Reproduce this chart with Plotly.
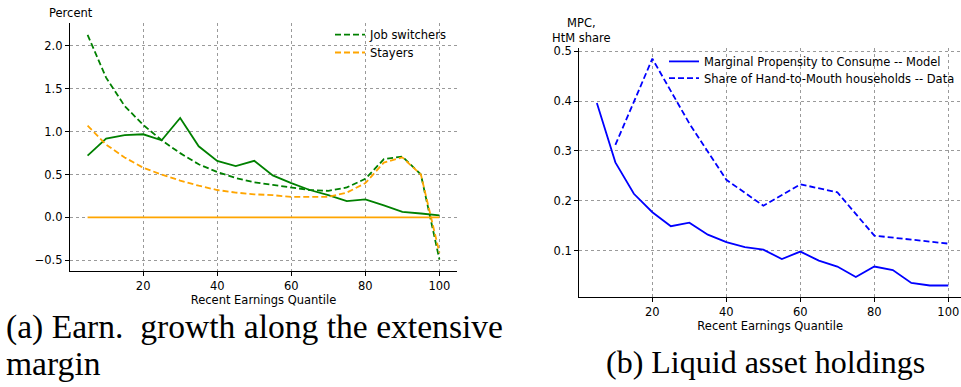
import plotly.graph_objects as go

# ---------------- data ----------------
quantiles = [5, 10, 15, 20, 25, 30, 35, 40, 45, 50, 55, 60, 65, 70, 75, 80, 85, 90, 95, 100]

switch_solid = [0.72, 0.92, 0.96, 0.97, 0.90, 1.16, 0.83, 0.66, 0.60, 0.66,
                0.49, 0.40, 0.32, 0.26, 0.19, 0.21, 0.14, 0.065, 0.046, 0.023]
switch_dash = [2.13, 1.63, 1.30, 1.08, 0.90, 0.75, 0.62, 0.53, 0.46, 0.41,
               0.38, 0.35, 0.32, 0.31, 0.35, 0.45, 0.68, 0.71, 0.50, -0.49]
stay_solid = [0.0] * 20
stay_dash = [1.07, 0.85, 0.70, 0.58, 0.50, 0.43, 0.37, 0.32, 0.29, 0.27,
             0.26, 0.24, 0.24, 0.24, 0.29, 0.40, 0.64, 0.70, 0.50, -0.41]

mpc_model = [0.396, 0.277, 0.214, 0.177, 0.149, 0.156, 0.132, 0.117, 0.107, 0.102,
             0.083, 0.098, 0.080, 0.068, 0.047, 0.068, 0.061, 0.035, 0.030, 0.030]
htm_quantiles = [10, 20, 30, 40, 50, 60, 70, 80, 90, 100]
htm_data = [0.312, 0.485, 0.355, 0.242, 0.190, 0.233, 0.217, 0.130, 0.122, 0.114]

x_ticks = [20, 40, 60, 80, 100]
left_yticks = [-0.5, 0.0, 0.5, 1.0, 1.5, 2.0]
right_yticks = [0.1, 0.2, 0.3, 0.4, 0.5]

# ---------------- figure ----------------
W, H = 961, 387
FONT = "DejaVu Sans"
FS = 11.5
GREEN, ORANGE, BLUE = "#008000", "#FFA500", "#0000FF"
DASH = "6px,3px"
LW = 1.8

fig = go.Figure()
fig.add_trace(go.Scatter(x=quantiles, y=switch_solid, mode="lines", line=dict(color=GREEN, width=LW),
                         showlegend=False, xaxis="x", yaxis="y"))
fig.add_trace(go.Scatter(x=quantiles, y=switch_dash, mode="lines", name="Job switchers",
                         line=dict(color=GREEN, width=LW, dash=DASH), legend="legend", xaxis="x", yaxis="y"))
fig.add_trace(go.Scatter(x=quantiles, y=stay_solid, mode="lines", line=dict(color=ORANGE, width=LW),
                         showlegend=False, xaxis="x", yaxis="y"))
fig.add_trace(go.Scatter(x=quantiles, y=stay_dash, mode="lines", name="Stayers",
                         line=dict(color=ORANGE, width=LW, dash=DASH), legend="legend3", xaxis="x", yaxis="y"))

fig.add_trace(go.Scatter(x=quantiles, y=mpc_model, mode="lines",
                         name="Marginal Propensity to Consume -- Model",
                         line=dict(color=BLUE, width=LW), legend="legend2", xaxis="x2", yaxis="y2"))
fig.add_trace(go.Scatter(x=htm_quantiles, y=htm_data, mode="lines",
                         name="Share of Hand-to-Mouth households -- Data",
                         line=dict(color=BLUE, width=LW, dash=DASH), legend="legend4", xaxis="x2", yaxis="y2"))


def px_x(p):
    return p / W


def px_y(p):
    return (H - p) / H


axis_common = dict(
    showline=True, linecolor="black", linewidth=1.2, mirror=False,
    ticks="outside", ticklen=4, tickwidth=1, tickcolor="black",
    showgrid=True, gridcolor="#9a9a9a", griddash="dot", gridwidth=1,
    zeroline=False, tickfont=dict(family=FONT, size=FS, color="black"),
)


def legend_at(x_text_px, y_center_px):
    return dict(x=px_x(x_text_px - 40), y=px_y(y_center_px), xanchor="left", yanchor="middle",
                bgcolor="rgba(0,0,0,0)", font=dict(family=FONT, size=FS), tracegroupgap=0)


fig.update_layout(
    width=W, height=H,
    margin=dict(l=0, r=0, t=0, b=0),
    paper_bgcolor="white", plot_bgcolor="white",
    font=dict(family=FONT, size=FS, color="black"),
    xaxis=dict(domain=[px_x(70), px_x(457)], range=[0.25, 104.75], tickvals=x_ticks,
               anchor="y",
               title=dict(text="Recent Earnings Quantile", font=dict(family=FONT, size=FS), standoff=2),
               **axis_common),
    yaxis=dict(domain=[px_y(270), px_y(19)], range=[-0.627, 2.27], tickvals=left_yticks,
               tickformat=".1f", anchor="x", **axis_common),
    xaxis2=dict(domain=[px_x(579.3), 1.0], range=[0.25, 103.43], tickvals=x_ticks,
                anchor="y2",
                title=dict(text="Recent Earnings Quantile", font=dict(family=FONT, size=FS), standoff=2),
                **axis_common),
    yaxis2=dict(domain=[px_y(295.7), px_y(44.7)], range=[0.0076, 0.506], tickvals=right_yticks,
                tickformat=".1f", anchor="x2", **axis_common),
    legend=legend_at(370, 31),
    legend3=legend_at(370, 49),
    legend2=legend_at(704, 58),
    legend4=legend_at(704, 75),
)

annotations = [
    dict(text="Percent", x=px_x(71), y=px_y(9), xref="paper", yref="paper",
         xanchor="center", yanchor="middle", showarrow=False, font=dict(family=FONT, size=FS)),
    dict(text="MPC,<br>HtM share", x=px_x(581), y=px_y(27), xref="paper", yref="paper",
         xanchor="center", yanchor="middle", showarrow=False, align="center",
         font=dict(family=FONT, size=FS)),
    dict(text="(a) Earn.\u00a0\u00a0growth along the extensive", x=px_x(4), y=px_y(326),
         xref="paper", yref="paper", xanchor="left", yanchor="middle", showarrow=False,
         font=dict(family="Liberation Serif", size=33.6)),
    dict(text="margin", x=px_x(4), y=px_y(363),
         xref="paper", yref="paper", xanchor="left", yanchor="middle", showarrow=False,
         font=dict(family="Liberation Serif", size=33.6)),
    dict(text="(b) Liquid asset holdings", x=px_x(604), y=px_y(362),
         xref="paper", yref="paper", xanchor="left", yanchor="middle", showarrow=False,
         font=dict(family="Liberation Serif", size=32)),
]
fig.update_layout(annotations=annotations)

fig.write_html("out.html")
